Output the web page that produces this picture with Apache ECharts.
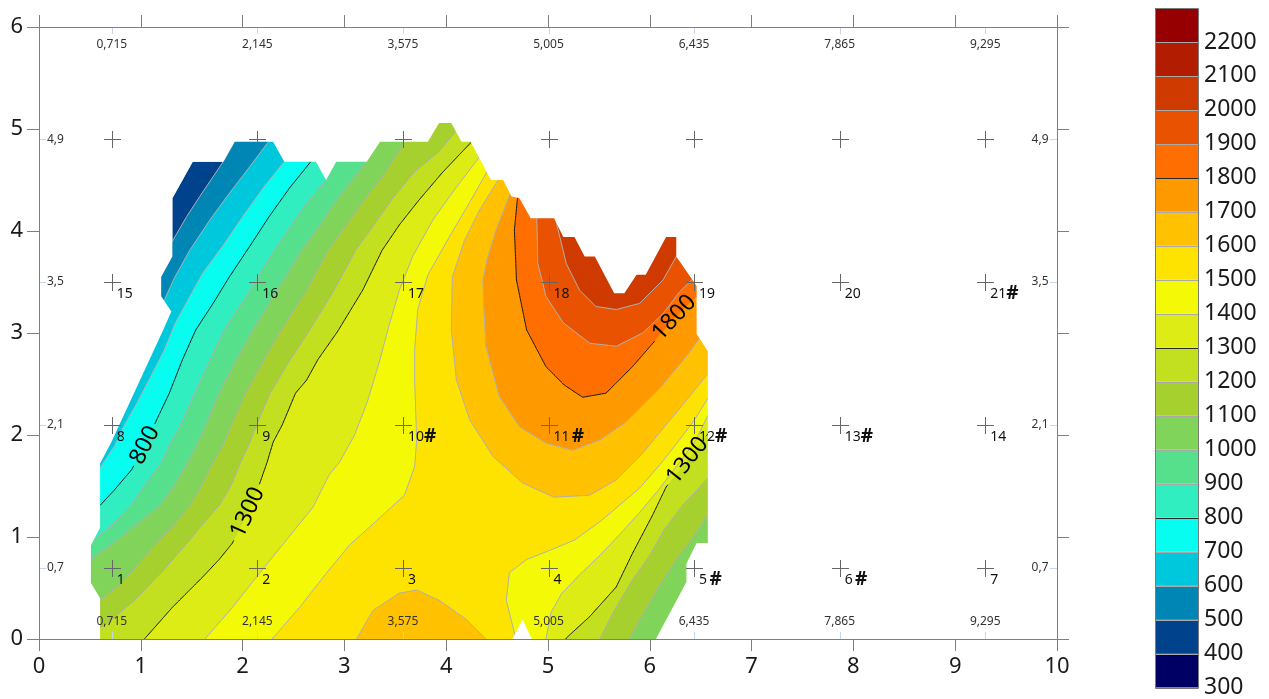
<!DOCTYPE html>
<html><head><meta charset="utf-8">
<script src="https://cdn.jsdelivr.net/npm/echarts@6/dist/echarts.min.js"></script>
<style>html,body{margin:0;padding:0;background:#fff}#c{width:1269px;height:699px}</style>
</head><body><div id="c"></div>
<script>
const FONT = '"Noto Sans", "Open Sans", "DejaVu Sans", sans-serif';

// sample grid
const sampleX = [0.715, 2.145, 3.575, 5.005, 6.435, 7.865, 9.295];
const sampleY = [0.7, 2.1, 3.5, 4.9];
const sampleXText = ['0,715','2,145','3,575','5,005','6,435','7,865','9,295'];
const sampleYText = ['0,7','2,1','3,5','4,9'];
const pointNames = [
  ['1','2','3','4','5 #','6 #','7'],
  ['8','9','10#','11 #','12#','13#','14'],
  ['15','16','17','18','19','20','21#'],
  ['','','','','','','']
];

// colour levels
const levels = [300,400,500,600,700,800,900,1000,1100,1200,1300,1400,1500,1600,1700,1800,1900,2000,2100,2200];
const levelColors = ['#000064','#00428c','#0086b4','#00c8dc','#06fdf0','#30eec0','#57e08b','#80d45a','#a6d02e','#c2df20','#ddec14','#f4f906','#ffe300','#ffc100','#ff9900','#ff6e00','#e85200','#cf3a00','#b21c00','#960000'];
const blackLevels = [800,1300,1800];

// interpolated domain outline (data units)
const domain = [[0.60,0],[0.60,0.40],[0.51,0.55],[0.51,0.92],[0.60,1.09],[0.60,1.72],[0.71,1.93],[1.22,3.03],[1.30,3.21],[1.20,3.36],[1.20,3.55],[1.31,3.75],[1.31,4.32],[1.51,4.68],[1.81,4.68],[1.92,4.875],[2.30,4.875],[2.41,4.68],[2.72,4.68],[2.82,4.50],[2.92,4.68],[3.22,4.68],[3.35,4.875],[3.82,4.875],[3.93,5.06],[4.05,5.06],[4.15,4.875],[4.24,4.875],[4.44,4.50],[4.56,4.50],[4.64,4.34],[4.72,4.32],[4.83,4.125],[5.06,4.125],[5.15,3.94],[5.26,3.94],[5.36,3.75],[5.46,3.75],[5.65,3.39],[5.75,3.39],[5.87,3.57],[5.96,3.57],[6.16,3.94],[6.26,3.94],[6.26,3.75],[6.46,3.46],[6.46,2.99],[6.57,2.82],[6.57,0.94],[6.46,0.94],[6.36,0.74],[6.36,0.56],[6.06,0]];
const notch = [[4.65,0],[4.75,0.19],[4.84,0]];

// contour lines (data units)
const c500 = [[2.03,5.05],[1.93,4.89],[1.81,4.68],[1.58,4.34],[1.45,4.14],[1.31,3.90],[1.18,3.74]];
const c600 = [[2.36,5.01],[2.25,4.87],[2.07,4.63],[1.87,4.37],[1.68,4.11],[1.48,3.81],[1.33,3.54],[1.23,3.32],[1.09,3.28]];
const c700 = [[2.46,4.79],[2.41,4.68],[2.20,4.42],[2.00,4.14],[1.81,3.86],[1.61,3.59],[1.46,3.32],[1.34,3.10],[1.23,2.83],[1.09,2.56],[0.96,2.31],[0.84,2.10],[0.74,1.89],[0.64,1.74],[0.59,1.66],[0.52,1.58]];
const c800 = [[2.74,4.78],[2.67,4.68],[2.46,4.42],[2.26,4.14],[2.07,3.85],[1.87,3.55],[1.71,3.29],[1.54,3.03],[1.41,2.74],[1.28,2.41],[1.18,2.20],[1.04,1.90],[0.91,1.66],[0.74,1.46],[0.60,1.31],[0.52,1.25]];
const c900 = [[2.83,4.65],[2.83,4.51],[2.65,4.30],[2.48,4.06],[2.31,3.81],[2.07,3.42],[1.82,3.03],[1.68,2.74],[1.53,2.41],[1.39,2.10],[1.28,1.90],[1.20,1.73],[1.04,1.51],[0.90,1.31],[0.69,1.09],[0.53,0.97],[0.44,0.89]];
const c1000 = [[3.27,4.79],[3.23,4.70],[3.13,4.57],[2.92,4.30],[2.76,4.06],[2.58,3.81],[2.34,3.42],[2.10,3.03],[1.94,2.74],[1.77,2.41],[1.64,2.10],[1.55,1.90],[1.46,1.73],[1.33,1.51],[1.19,1.31],[0.99,1.15],[0.77,0.97],[0.59,0.84],[0.51,0.78],[0.44,0.72]];
const c1100L = [[3.62,4.97],[3.59,4.875],[3.40,4.57],[3.19,4.30],[3.02,4.06],[2.84,3.81],[2.63,3.42],[2.38,3.03],[2.21,2.74],[2.03,2.41],[1.89,2.10],[1.81,1.90],[1.71,1.73],[1.60,1.51],[1.48,1.31],[1.33,1.12],[1.18,0.97],[0.99,0.75],[0.79,0.53],[0.60,0.38],[0.54,0.31]];
const c1100R = [[5.77,-0.09],[5.80,0],[5.95,0.28],[6.10,0.53],[6.26,0.78],[6.42,0.99],[6.57,1.22],[6.65,1.31]];
const c1200L = [[4.15,5.03],[4.09,4.97],[3.93,4.78],[3.68,4.57],[3.46,4.30],[3.29,4.06],[3.11,3.81],[2.90,3.42],[2.66,3.03],[2.47,2.74],[2.27,2.41],[2.14,2.10],[2.06,1.90],[1.98,1.73],[1.89,1.51],[1.77,1.31],[1.63,1.15],[1.48,0.97],[1.23,0.68],[0.94,0.38],[0.69,0.17],[0.60,0.11],[0.54,0.05]];
const c1200R = [[5.48,-0.09],[5.51,0],[5.65,0.28],[5.83,0.58],[6.00,0.82],[6.14,1.07],[6.32,1.31],[6.49,1.49],[6.57,1.58],[6.65,1.66]];
const c1300L = [[4.31,4.99],[4.25,4.875],[3.96,4.57],[3.73,4.30],[3.54,4.06],[3.37,3.81],[3.18,3.42],[2.93,3.01],[2.74,2.74],[2.63,2.54],[2.52,2.41],[2.39,2.10],[2.30,1.93],[2.24,1.73],[2.17,1.53],[2.05,1.24],[1.90,0.94],[1.77,0.78],[1.61,0.61],[1.31,0.31],[1.04,0.005],[0.99,-0.07]];
const c1300R = [[5.13,-0.09],[5.18,0.01],[5.41,0.22],[5.67,0.51],[5.83,0.84],[6.03,1.22],[6.16,1.49],[6.37,1.75],[6.57,2.01],[6.65,2.10]];
const c1400L = [[4.37,4.79],[4.33,4.73],[4.10,4.43],[3.87,4.11],[3.67,3.75],[3.54,3.42],[3.44,3.08],[3.35,2.74],[3.23,2.34],[3.10,2.00],[2.95,1.73],[2.85,1.61],[2.69,1.29],[2.43,0.97],[2.17,0.65],[1.90,0.31],[1.63,0],[1.58,-0.07]];
const c1400R = [[4.96,-0.09],[4.98,0],[5.03,0.26],[5.13,0.44],[5.31,0.63],[5.51,0.82],[5.70,1.02],[5.90,1.24],[6.10,1.48],[6.29,1.73],[6.44,1.93],[6.57,2.19],[6.65,2.27]];
const c1500L = [[4.47,4.70],[4.40,4.58],[4.23,4.28],[4.03,3.94],[3.82,3.57],[3.72,3.23],[3.69,2.83],[3.69,2.54],[3.71,1.95],[3.69,1.69],[3.59,1.41],[3.35,1.19],[3.05,0.92],[2.81,0.63],[2.56,0.31],[2.29,0],[2.25,-0.09]];
const c1500R = [[4.70,-0.09],[4.67,0.06],[4.59,0.38],[4.62,0.65],[4.79,0.78],[5.02,0.87],[5.26,0.97],[5.51,1.15],[5.70,1.31],[5.90,1.48],[6.10,1.71],[6.29,1.95],[6.44,2.15],[6.57,2.36],[6.65,2.44]];
const c1600 = [[4.52,4.58],[4.51,4.50],[4.33,4.21],[4.18,3.91],[4.06,3.55],[4.05,3.03],[4.10,2.54],[4.23,2.15],[4.46,1.79],[4.75,1.53],[5.06,1.39],[5.41,1.41],[5.67,1.56],[5.93,1.82],[6.16,2.10],[6.36,2.34],[6.57,2.60],[6.65,2.69]];
const c1600b = [[3.08,-0.07],[3.12,0],[3.28,0.28],[3.54,0.45],[3.71,0.48],[3.93,0.38],[4.20,0.19],[4.39,0],[4.43,-0.07]];
const c1700 = [[4.66,4.46],[4.64,4.40],[4.49,4.01],[4.40,3.72],[4.36,3.52],[4.37,3.23],[4.39,2.87],[4.52,2.38],[4.72,2.08],[4.98,1.92],[5.24,1.85],[5.51,1.95],[5.77,2.13],[6.10,2.46],[6.36,2.77],[6.49,2.95],[6.61,3.08]];
const c1800 = [[4.71,4.40],[4.70,4.32],[4.67,4.01],[4.69,3.52],[4.79,3.03],[4.98,2.67],[5.16,2.49],[5.34,2.37],[5.57,2.41],[5.83,2.67],[6.03,2.90],[6.24,3.15],[6.46,3.36],[6.55,3.44]];
const c1900 = [[4.90,4.19],[4.89,4.125],[4.90,3.68],[4.98,3.36],[5.15,3.10],[5.41,2.90],[5.67,2.87],[5.93,3.00],[6.13,3.19],[6.29,3.40],[6.42,3.53],[6.49,3.60]];
const c2000 = [[5.11,4.17],[5.08,4.09],[5.18,3.68],[5.31,3.42],[5.47,3.26],[5.67,3.23],[5.90,3.29],[6.13,3.52],[6.26,3.75],[6.33,3.83]];

// contour label anchors
const contourLabels = [
  {line: c800, text: '800', at: [1.04,1.90]},
  {line: c1300L, text: '1300', at: [2.05,1.24]},
  {line: c1300R, text: '1300', at: [6.37,1.75]},
  {line: c1800, text: '1800', at: [6.24,3.15]}
];

// ---- polygon construction (superlevel sets, closed outside the plot) ----
const OL = -0.5, OR = 10.5, OB = -0.5, OT = 6.5;
const first = a => a[0], last = a => a[a.length - 1];
function bandPoly(left, right) {
  const pts = left.slice();
  pts.push([OL, last(left)[1]], [OL, OB]);
  if (right) { pts.push([first(right)[0], OB]); pts.push(...right); pts.push([OR, last(right)[1]]); }
  else pts.push([OR, OB]);
  pts.push([OR, OT], [first(left)[0], OT]);
  return pts;
}
function capPoly(line) {
  return line.concat([[OR, last(line)[1]], [OR, OT], [first(line)[0], OT]]);
}
const fillLayers = [
  {level: 400, polys: [domain]},
  {level: 500, polys: [bandPoly(c500)]},
  {level: 600, polys: [bandPoly(c600)]},
  {level: 700, polys: [bandPoly(c700)]},
  {level: 800, polys: [bandPoly(c800)]},
  {level: 900, polys: [bandPoly(c900)]},
  {level: 1000, polys: [bandPoly(c1000)]},
  {level: 1100, polys: [bandPoly(c1100L, c1100R)]},
  {level: 1200, polys: [bandPoly(c1200L, c1200R)]},
  {level: 1300, polys: [bandPoly(c1300L, c1300R)]},
  {level: 1400, polys: [bandPoly(c1400L, c1400R)]},
  {level: 1500, polys: [bandPoly(c1500L, c1500R)]},
  {level: 1600, polys: [capPoly(c1600), c1600b]},
  {level: 1700, polys: [capPoly(c1700)]},
  {level: 1800, polys: [capPoly(c1800)]},
  {level: 1900, polys: [capPoly(c1900)]},
  {level: 2000, polys: [capPoly(c2000)]}
];
const grayLines = [c500,c600,c700,c900,c1000,c1100L,c1100R,c1200L,c1200R,c1400L,c1400R,c1500L,c1500R,c1600,c1600b,c1700,c1900,c2000];
const maskPoly = [[0,0]].concat(domain).concat([[10,0],[10,6],[0,6]]);

function clipOut(px, c, r) {
  const runs = []; let cur = [];
  for (let i = 0; i < px.length - 1; i++) {
    const a = px[i], b = px[i+1];
    const len = Math.hypot(b[0]-a[0], b[1]-a[1]);
    const n = Math.max(1, Math.ceil(len / 1.5));
    for (let k = (i === 0 ? 0 : 1); k <= n; k++) {
      const t = k / n;
      const p = [a[0] + (b[0]-a[0]) * t, a[1] + (b[1]-a[1]) * t];
      if (Math.hypot(p[0]-c[0], p[1]-c[1]) < r) { if (cur.length > 1) runs.push(cur); cur = []; }
      else cur.push(p);
    }
  }
  if (cur.length > 1) runs.push(cur);
  return runs;
}

function renderContours(params, api) {
  const P = pts => pts.map(p => api.coord(p));
  const children = [];
  fillLayers.forEach(layer => {
    const col = levelColors[levels.indexOf(layer.level)];
    layer.polys.forEach(poly => children.push({type: 'polygon', shape: {points: P(poly)}, style: {fill: col}}));
  });
  grayLines.forEach(line => children.push({type: 'polyline', shape: {points: P(line)}, style: {stroke: '#b0b0b0', lineWidth: 1, fill: null}}));
  const texts = [];
  contourLabels.forEach(b => {
    const px = P(b.line); const c = api.coord(b.at);
    const r = b.text.length * 6.8 + 3;
    clipOut(px, c, r).forEach(run => children.push({type: 'polyline', shape: {points: run}, style: {stroke: '#141414', lineWidth: 1, fill: null}}));
    let best = 0, bd = 1e9;
    px.forEach((p, i) => { const d = Math.hypot(p[0]-c[0], p[1]-c[1]); if (d < bd) { bd = d; best = i; } });
    const a = px[Math.max(0, best-1)], q = px[Math.min(px.length-1, best+1)];
    let dx = q[0]-a[0], dy = q[1]-a[1]; if (dx < 0) { dx = -dx; dy = -dy; }
    const ang = Math.atan2(dy, dx);
    texts.push({type: 'text', x: c[0], y: c[1], rotation: -ang,
      style: {text: b.text, fontSize: 23, fontFamily: FONT, fill: '#000', align: 'center', verticalAlign: 'middle'}});
  });
  children.push({type: 'polygon', shape: {points: P(maskPoly)}, style: {fill: '#fff'}});
  children.push({type: 'polygon', shape: {points: P(notch)}, style: {fill: '#fff'}});
  return {type: 'group', children: children.concat(texts)};
}

const pointData = [];
sampleY.forEach((y) => sampleX.forEach((x) => pointData.push([x, y])));
function renderPoint(params, api) {
  const k = params.dataIndex; const j = Math.floor(k / sampleX.length), i = k % sampleX.length;
  const c = api.coord([sampleX[i], sampleY[j]]);
  const h = 8.5, cx = Math.round(c[0]) + 0.5, cy = Math.round(c[1]) + 0.5;
  const ch = [
    {type: 'line', shape: {x1: cx-h, y1: cy, x2: cx+h, y2: cy}, style: {stroke: '#666', lineWidth: 1}},
    {type: 'line', shape: {x1: cx, y1: cy-h, x2: cx, y2: cy+h}, style: {stroke: '#666', lineWidth: 1}}
  ];
  const name = pointNames[j][i];
  if (name) {
    const m = name.match(/^(\d+)(\s*)(#?)$/);
    let txt = '{n|' + m[1] + '}';
    if (m[3]) txt += (m[2] ? '{s| }' : '') + '{h|#}';
    ch.push({type: 'text', x: c[0] + 5, y: c[1] + 12, style: {text: txt, align: 'left', verticalAlign: 'middle',
      rich: {n: {fontSize: 14, fontFamily: FONT, fill: '#111'}, s: {fontSize: 9, fontFamily: FONT}, h: {fontSize: 19, fontWeight: 'bold', fontFamily: FONT, fill: '#111'}}}});
  }
  return {type: 'group', children: ch};
}

function renderSampleAxes(params, api) {
  const ch = [];
  const tickCol = '#c6d6ef', txtCol = '#333';
  sampleX.forEach((x, i) => {
    const t = api.coord([x, 6]), b = api.coord([x, 0]);
    const xx = Math.round(t[0]) + 0.5;
    ch.push({type: 'line', shape: {x1: xx, y1: t[1], x2: xx, y2: t[1] + 7}, style: {stroke: tickCol, lineWidth: 1}});
    ch.push({type: 'line', shape: {x1: xx, y1: b[1], x2: xx, y2: b[1] - 7}, style: {stroke: tickCol, lineWidth: 1}});
    ch.push({type: 'text', x: t[0], y: t[1] + 17.5, style: {text: sampleXText[i], fontSize: 12, fontFamily: FONT, fill: txtCol, align: 'center', verticalAlign: 'middle'}});
    ch.push({type: 'text', x: b[0], y: b[1] - 17.5, style: {text: sampleXText[i], fontSize: 12, fontFamily: FONT, fill: txtCol, align: 'center', verticalAlign: 'middle'}});
  });
  sampleY.forEach((y, i) => {
    const l = api.coord([0, y]), r = api.coord([10, y]);
    const yy = Math.round(l[1]) + 0.5;
    ch.push({type: 'line', shape: {x1: l[0], y1: yy, x2: l[0] + 7, y2: yy}, style: {stroke: tickCol, lineWidth: 1}});
    ch.push({type: 'line', shape: {x1: r[0], y1: yy, x2: r[0] - 7, y2: yy}, style: {stroke: tickCol, lineWidth: 1}});
    ch.push({type: 'text', x: l[0] + 8, y: l[1], style: {text: sampleYText[i], fontSize: 12, fontFamily: FONT, fill: txtCol, align: 'left', verticalAlign: 'middle'}});
    ch.push({type: 'text', x: r[0] - 8.5, y: r[1], style: {text: sampleYText[i], fontSize: 12, fontFamily: FONT, fill: txtCol, align: 'right', verticalAlign: 'middle'}});
  });
  return {type: 'group', children: ch};
}

function renderBand(params, api) {
  const i = params.dataIndex, l = levels[i];
  const p0 = api.coord([0, l]), p1 = api.coord([1, l + 100]);
  const ch = [{type: 'rect', shape: {x: p0[0], y: p1[1], width: p1[0] - p0[0], height: p0[1] - p1[1]}, style: {fill: levelColors[i]}}];
  if (i > 0) {
    const yy = Math.round(p0[1]) + 0.5;
    ch.push({type: 'line', shape: {x1: p0[0], y1: yy, x2: p1[0], y2: yy}, style: {stroke: blackLevels.includes(l) ? '#2a2a2a' : '#a9a9a9', lineWidth: 1}});
  }
  if (i === levels.length - 1) {
    const b0 = api.coord([0, levels[0]]);
    ch.push({type: 'rect', shape: {x: Math.round(b0[0]) + 0.5, y: Math.round(p1[1]) + 0.5, width: Math.round(p1[0] - b0[0]), height: Math.round(b0[1] - p1[1])}, style: {fill: null, stroke: '#7a7a7a', lineWidth: 1}});
  }
  return {type: 'group', children: ch};
}

const axisCol = '#7f7f7f';
const baseAxis = {
  type: 'value', z: 6,
  axisLine: {show: true, onZero: false, lineStyle: {color: axisCol, width: 1}},
  axisTick: {show: true, length: 12, lineStyle: {color: axisCol, width: 1}},
  splitLine: {show: false}
};
const lab = {fontSize: 22, color: '#1a1a1a', fontFamily: FONT};

const chart = echarts.init(document.getElementById('c'));
chart.setOption({
  animation: false,
  backgroundColor: '#fff',
  grid: [
    {left: 39, top: 27, width: 1018, height: 612},
    {left: 1155, top: 8, width: 43, height: 680}
  ],
  xAxis: [
    Object.assign({}, baseAxis, {gridIndex: 0, position: 'bottom', min: 0, max: 10, interval: 1, axisLabel: Object.assign({margin: 17}, lab)}),
    Object.assign({}, baseAxis, {gridIndex: 0, position: 'top', min: 0, max: 10, interval: 1, axisLabel: {show: false}}),
    {type: 'value', gridIndex: 1, min: 0, max: 1, show: false}
  ],
  yAxis: [
    Object.assign({}, baseAxis, {gridIndex: 0, position: 'left', min: 0, max: 6, interval: 1, axisLabel: Object.assign({margin: 16}, lab)}),
    Object.assign({}, baseAxis, {gridIndex: 0, position: 'right', min: 0, max: 6, interval: 1, axisLabel: {show: false}}),
    {type: 'value', gridIndex: 1, position: 'right', min: 300, max: 2300, interval: 100,
      axisLine: {show: false}, axisTick: {show: false}, splitLine: {show: false},
      axisLabel: Object.assign({}, lab, {fontSize: 23, margin: 6, formatter: v => (v === 2300 ? '' : String(v))})}
  ],
  series: [
    {type: 'custom', xAxisIndex: 0, yAxisIndex: 0, clip: true, silent: true, z: 2, data: [[0, 0]], renderItem: renderContours},
    {type: 'custom', xAxisIndex: 0, yAxisIndex: 0, silent: true, z: 3, data: [[0, 0]], renderItem: renderSampleAxes},
    {type: 'custom', xAxisIndex: 0, yAxisIndex: 0, silent: true, z: 4, data: pointData, renderItem: renderPoint},
    {type: 'custom', xAxisIndex: 2, yAxisIndex: 2, silent: true, z: 2, data: levels.map(l => [0.5, l]), renderItem: renderBand}
  ]
});
</script>
</body></html>
